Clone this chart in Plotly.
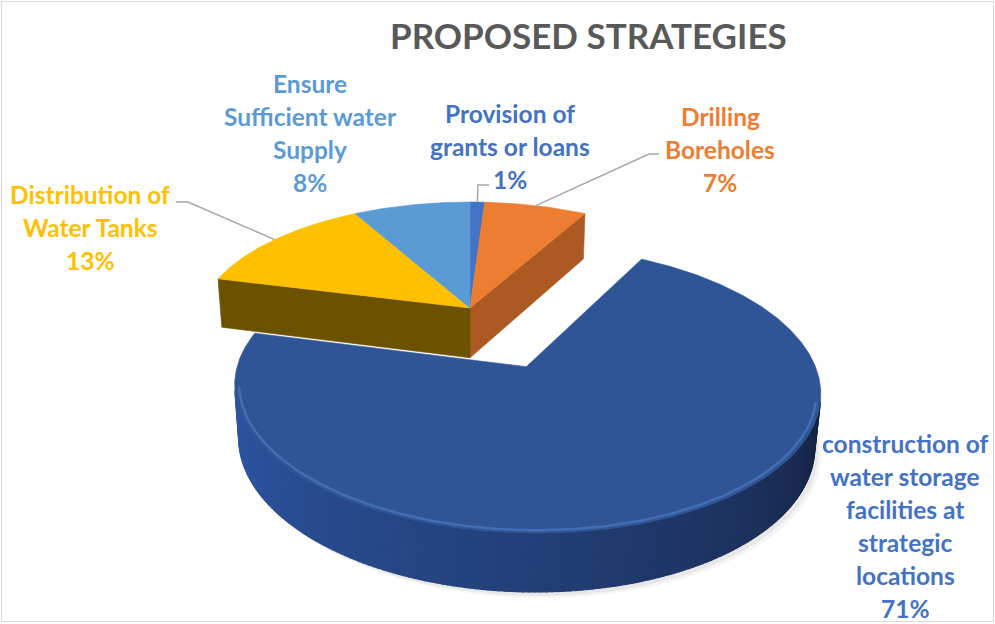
import numpy as np
import plotly.graph_objects as go

# ---- data -------------------------------------------------------------
categories = [
    "Provision of\ngrants or loans",
    "Drilling\nBoreholes",
    "construction of\nwater storage\nfacilities at\nstrategic\nlocations",
    "Distribution of\nWater Tanks",
    "Ensure\nSufficient water\nSupply",
]
shares = [1, 7, 71, 13, 8]
explode = [0.0, 0.0, 0.49, 0.0, 0.0]

# ---- styling ----------------------------------------------------------
top_colors = ["#4472C4", "#ED7D31", "#2F5597", "#FFC000", "#5B9BD5"]
side_colors = ["#2F5597", "#AD5A22", "#1F3864", "#6B5200", "#3F76AA"]
label_colors = ["#4472C4", "#ED7D31", "#4472C4", "#FFC000", "#5B9BD5"]
# first-line centre of every data label (pixels)
label_pos = [(510, 113), (720, 116), (905, 443), (90, 194), (310, 83)]
# leader-line start points (label side), None = no leader
leader_start = [[(489, 185), (478, 185)], [(659, 154), (649, 154)], None,
                [(176, 202), (188, 202)], None]
LINE_STEP = 33
FONT = "Lato"

# ---- 3-D projection of the pie --------------------------------------
CX, CY = 470.0, 308.0        # projected pie centre
K = 269.8                    # radius scale
ALPHA = np.arcsin(0.4514)    # viewing elevation
INV_D = 0.167                # perspective strength
THICK = 0.21                 # pie height relative to radius
CAM = np.array([0.0, np.sin(ALPHA) / INV_D, -np.cos(ALPHA) / INV_D])


def project(X, Y, Z):
    X, Y, Z = np.asarray(X, float), np.asarray(Y, float), np.asarray(Z, float)
    w = 1 + INV_D * (Z * np.cos(ALPHA) - Y * np.sin(ALPHA))
    sx = CX + K * X / w
    sy = CY - K * (Y * np.cos(ALPHA) + Z * np.sin(ALPHA)) / w
    return sx, sy


def mix(c1, c2, t):
    a = np.array([int(c1[i:i + 2], 16) for i in (1, 3, 5)], float)
    b = np.array([int(c2[i:i + 2], 16) for i in (1, 3, 5)], float)
    c = a + (b - a) * t
    return "#" + "".join(f"{int(round(v)):02X}" for v in c)


def poly(fig, xs, ys, color, width=0.6, line_color=None):
    fig.add_trace(go.Scatter(
        x=list(xs) + [xs[0]], y=list(ys) + [ys[0]], mode="lines",
        fill="toself", fillcolor=color,
        line=dict(color=line_color or color, width=width),
        hoverinfo="skip", showlegend=False))


total = float(sum(shares))
bounds = np.concatenate([[0], np.cumsum(shares)]) / total * 2 * np.pi
n = len(shares)

fig = go.Figure()

slices = []
for i in range(n):
    t0, t1 = bounds[i], bounds[i + 1]
    tm = 0.5 * (t0 + t1)
    ex, ez = explode[i] * np.sin(tm), explode[i] * np.cos(tm)
    slices.append((i, t0, t1, tm, ex, ez))

# slices in place first, exploded slice drawn over them
order = sorted(range(n), key=lambda k: explode[k])
for i in order:
    _, t0, t1, tm, ex, ez = slices[i]
    nb_prev, nb_next = (i - 1) % n, (i + 1) % n

    # faint drop shadow behind the exploded slice
    if explode[i] > 0:
        th = np.linspace(t0, t1, 200)
        X = np.concatenate([[ex], ex + np.sin(th)])
        Z = np.concatenate([[ez], ez + np.cos(th)])
        for dx, dy, op in ((7, 6, 0.04), (4, 4, 0.05)):
            sx, sy = project(X, np.full_like(X, -THICK), Z)
            poly(fig, sx + dx, sy + dy, f"rgba(0,0,0,{op})", width=0,
                 line_color="rgba(0,0,0,0)")

    # radial cut faces that are exposed and face the camera
    for edge, t, nb in (("start", t0, nb_prev), ("end", t1, nb_next)):
        if explode[i] == 0 and explode[nb] == 0:
            continue
        if edge == "start":
            nrm = np.array([-np.cos(t), 0, np.sin(t)])
        else:
            nrm = np.array([np.cos(t), 0, -np.sin(t)])
        mid = np.array([ex + 0.5 * np.sin(t), -THICK / 2, ez + 0.5 * np.cos(t)])
        if np.dot(nrm, CAM - mid) <= 0:
            continue
        X = [ex, ex + np.sin(t), ex + np.sin(t), ex]
        Z = [ez, ez + np.cos(t), ez + np.cos(t), ez]
        Y = [0, 0, -THICK, -THICK]
        sx, sy = project(X, Y, Z)
        poly(fig, sx, sy, side_colors[i])

    # outer rim wall, shaded by the angle it faces
    steps = max(int(np.degrees(t1 - t0)), 2)
    th = np.linspace(t0, t1, steps + 1)
    for a, b in zip(th[:-1], th[1:]):
        c = 0.5 * (a + b)
        P = np.array([ex + np.sin(c), 0, ez + np.cos(c)])
        nrm = np.array([np.sin(c), 0, np.cos(c)])
        if np.dot(nrm, CAM - P) <= 0:
            continue
        X = [ex + np.sin(a), ex + np.sin(b), ex + np.sin(b), ex + np.sin(a)]
        Z = [ez + np.cos(a), ez + np.cos(b), ez + np.cos(b), ez + np.cos(a)]
        Y = [0, 0, -THICK, -THICK]
        sx, sy = project(X, Y, Z)
        if explode[i] > 0:
            tt = np.clip((np.degrees(c) - 100) / 160, 0, 1) ** 0.8
            col = mix("#141F3A", "#2D56A3", tt)
        else:
            col = side_colors[i]
        poly(fig, sx, sy, col, width=1.2)

    # top face
    th = np.linspace(t0, t1, max(int(np.degrees(t1 - t0) * 2), 4))
    X = np.concatenate([[ex], ex + np.sin(th)])
    Z = np.concatenate([[ez], ez + np.cos(th)])
    sx, sy = project(X, np.zeros_like(X), Z)
    poly(fig, sx, sy, top_colors[i])

    # soft bevel highlight along the front rim of the exploded slice
    if explode[i] > 0:
        th = np.linspace(np.radians(104), np.radians(262), 160)
        sx, sy = project(ex + 0.985 * np.sin(th), np.zeros_like(th),
                         ez + 0.985 * np.cos(th))
        fig.add_trace(go.Scatter(x=sx, y=sy, mode="lines",
                                 line=dict(color="rgba(90,135,210,0.5)", width=2.5),
                                 hoverinfo="skip", showlegend=False))

# leader lines from labels to the rim at each slice's mid angle
for i in range(n):
    if leader_start[i] is None:
        continue
    _, t0, t1, tm, ex, ez = slices[i]
    rx, ry = project(ex + np.sin(tm), 0, ez + np.cos(tm))
    pts = leader_start[i] + [(float(rx), float(ry))]
    fig.add_trace(go.Scatter(x=[p[0] for p in pts], y=[p[1] for p in pts],
                             mode="lines", line=dict(color="#A6A6A6", width=1.5),
                             hoverinfo="skip", showlegend=False))

# data labels: category name and percentage
annotations = []
for i in range(n):
    lines = categories[i].split("\n") + [f"{shares[i] / total * 100:.0f}%"]
    x0, y0 = label_pos[i]
    for j, txt in enumerate(lines):
        annotations.append(dict(
            x=x0, y=y0 + j * LINE_STEP, xref="x", yref="y", text=txt,
            showarrow=False, xanchor="center", yanchor="middle",
            font=dict(family=FONT, size=24.5, color=label_colors[i], weight="bold")))

annotations.append(dict(
    x=588, y=35, xref="x", yref="y", text="PROPOSED STRATEGIES", showarrow=False,
    xanchor="center", yanchor="middle",
    font=dict(family=FONT, size=35, color="#595959", weight="bold")))

fig.update_layout(
    width=995, height=624, margin=dict(l=0, r=0, t=0, b=0),
    paper_bgcolor="white", plot_bgcolor="white", showlegend=False,
    xaxis=dict(range=[0, 995], visible=False, fixedrange=True),
    yaxis=dict(range=[624, 0], visible=False, fixedrange=True),
    annotations=annotations,
    shapes=[dict(type="rect", xref="x", yref="y", x0=1.5, y0=1.5, x1=993.5, y1=621.5,
                 line=dict(color="#D9D9D9", width=1), layer="below")],
)

fig.write_html("out.html")
